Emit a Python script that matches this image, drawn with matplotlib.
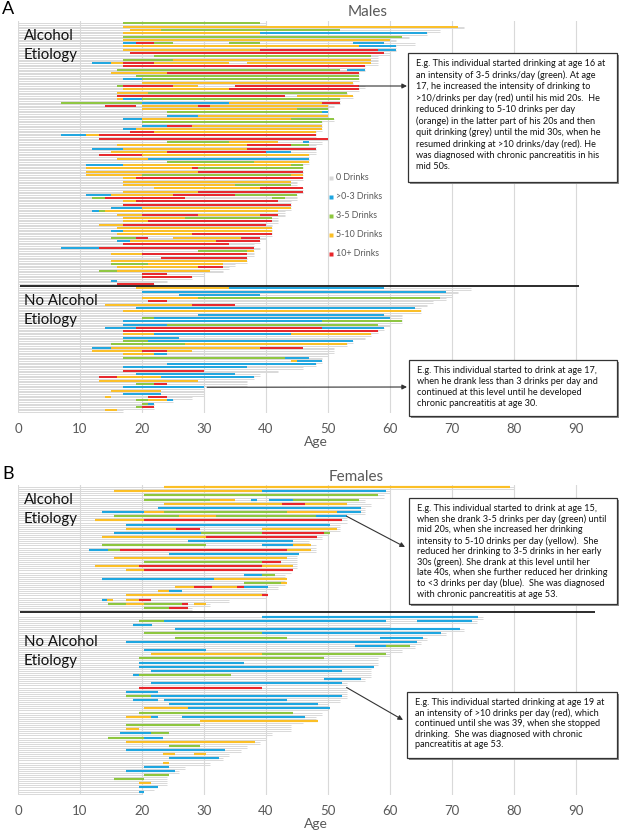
import matplotlib
matplotlib.use('Agg')
import matplotlib.pyplot as plt
from matplotlib.patches import Rectangle

plt.rcParams['font.family'] = ['Lato', 'DejaVu Sans']

# ---------------- data ----------------
age_ticks = [0, 10, 20, 30, 40, 50, 60, 70, 80, 90]
legend_labels = ['0 Drinks', '>0-3 Drinks', '3-5 Drinks', '5-10 Drinks', '10+ Drinks']
legend_codes = ['n', 'b', 'g', 'y', 'r']
colors = {'n': '#d9d9d9', 'b': '#1ea6e0', 'g': '#8dc63f', 'y': '#fbbf26', 'r': '#e8262a'}

# each row: "diagnosis age: code start-end ..."  (b >0-3, g 3-5, y 5-10, r 10+)
male_alcohol = [
    "40: g17-39", "72: y17-71", "68: y18-23 g23-52", "66: y17-39 b39-66", "63: g17-62",
    "61: y17-60", "64: b17-19 r19-22 g22-25 g34-39 b54-59", "61: y17-55 b55-61",
    "61: y17-39 r39-58 b58-61", "60: r18-59", "58: g22-57", "58: g17-25 y25-57",
    "58: b12-15 y15-17 r17-22 y22-34 y37-57", "56: r17-56", "56: g16-52 b53-56",
    "55: y15-24 r24-55", "55: g19-55", "55: b17-20 g20-55", "54: y20-54",
    "56: g16-17 r17-25 y25-29 r35-55", "55: y17-34 r34-55", "53: y16-21 g21-53",
    "54: r16-43 y45-54", "52: y16-17 b17-20 g20-52", "52: g7-20 b20-34 y34-49 r49-52",
    "51: r14-19 y20-29 r29-31 y31-50", "50: y20-45 g45-50", "50: g24-49 b49-50",
    "50: b24-29 y29-50", "51: b17-20 y20-44 g44-51", "49: g20-49", "49: b20-24 r24-28 y28-49",
    "49: b17-19 y19-49", "48: r18-22 y22-48", "48: b7-11 y11-13 r13-48", "50: r13-50",
    "49: g24-34 y34-42 b46-47", "48: y16-37 r37-44 g44-47", "48: b12-17 y17-37 r37-48",
    "48: y15-24 r24-40 b40-44", "47: r13-20 y20-47", "47: y16-21 b21-47", "47: g24-38 y38-47",
    "46: b11-17 y17-44 g44-46", "46: y11-28 r28-29 g29-46", "46: y11-29 r29-46",
    "46: y11-20 g20-44 y44-46", "46: y17-19 r19-46", "45: y17-44", "45: y17-35 g35-44",
    "46: y22-39 r39-46", "46: y17-29 r29-46", "45: b11-15 y15-25 r25-35 g35-45",
    "45: g12-14 r14-27 g41-43", "44: y17-19 r19-42", "44: r17-44", "44: b15-20 y20-44",
    "43: b12-13 g13-14 y14-42", "43: y16-20 r20-29 y29-39 r39-42", "42: y17-27 g27-41",
    "42: y17-21 r21-41", "41: y13-17 r17-40", "41: y16-41", "41: b15-17 y17-41",
    "41: y16-28 r28-41", "40: g15-19 r19-21 y25-36 r36-39", "39: b16-18 y18-32 r32-39",
    "38: r17-34", "39: b7-13 r13-38", "38: g29-37 y37-38", "38: y15-20 r20-37", "37: r23-37",
    "37: y15-37", "35: g15-21 y21-33", "34: y16-29 r29-33", "33: g13-16 y16-31",
    "30: r20-24", "28: r20-28", "24: b15-16", "22: r16-22",
]
male_no_alcohol = [
    "73: y19-34 b34-59", "71: b20-69", "70: b26-39", "69: y20-29 g29-68", "67: r21-24",
    "66: y14-28 r28-35", "65: b19-64", "65: y17-65", "62: b29-59", "62: g20-22 b22-60",
    "62: b17-49 g49-62", "60: b17-24 g24-58", "59: b14-19 r19-49 b49-59", "58: r17-58",
    "57: y17-22 b22-44 y44-57", "56: b17-26", "54: g17-21 b21-54", "53: g15-27 y27-53",
    "51: b12-15 y15-39 r39-46", "51: y12-20 r20-24 y24-28", "50: y17-22 b22-24",
    "49: g17-43 b43-47", "49: y44-45 b45-49", "48: b24-48", "46: b17-37", "42: r17-30",
    "39: b19-35", "38: r13-16 y16-23 b23-38", "37: y13-29", "37: g19-22 r22-24",
    "30: b17-30", "30: y15-23", "30: b17-23", "28: y14-15 r21-24", "25: g19-21 y21-24 b24-25",
    "22: g20-21 b21-22", "22: g19-20 r20-22", "17: y14-16",
]
female_alcohol = [
    "80: y23.5-79.3", "60: y15.5-39.4 b39.4-59.3", "59: g20.4-58",
    "56: g20.4-31 y31-35 b37.5-38.5 b40.5-44.4 g44.4-55", "57: y23.5-42.5 r42.5-46.3 y46.3-53",
    "56: b22.6-55.3", "56: b13.5-20.4 y20.4-23.5 g23.5-43.4 y43.4-51.4 b51.4-55.3",
    "53: g15.5-26 y26-32 g32-48 b48-53", "53: y12.4-20.4 r20.4-52.3", "52: b17.4-50.4",
    "52: y17.4-25.5 r25.5-29.4 y39.4-51.4", "50: b15.5-29.5 g29.5-39.4 r39.4-49.4 g49.4-50.4",
    "49: y13.5-30.3 r30.3-48.2", "47: b27.4-44.4", "48: g13.5-30.3 b39.4-44.4 y44.4-47.2",
    "48: b11.5-14.5 g14.5-16.5 r16.5-43.4 y43.4-47.2", "45: b24.4-45.3", "45: y15.5-43.4",
    "45: g20.4-39.4 r39.4-42.4", "45: y12.4-19.5 r19.5-39.4 y39.4-44.4", "44: y17.4-20.4 r20.4-44.4",
    "43: b36.4-39.4 g39.4-41.4", "43: b13.5-31.6 y31.6-43.4", "43: g36.4-42.4 y42.4-43.4",
    "42: y25.4-28.4 r28.4-31.3 y31.3-35.3 r35.3-36.4 b36.4-40.4", "40: y22.5-24.4 b24.4-26.4",
    "40: y17.4-39.4 r39.4-40.4", "34: b13.5-14.3 y14.3-15.4 y17.4-19.5 r19.5-21.4",
    "31: g14.5-17.4 y17.4-20.4 g20.4-26.4 r26.4-27.4 y28.4-30.3", "28: g20.4-24.4 r24.4-27.4",
]
female_no_alcohol = [
    "75: b39.4-74.2", "74: g19.5-23.5 b23.5-59.3 b64.3-73.3", "60: b18.5-21.6", "72: b25.4-71.3",
    "69: g20.4-39.4 b39.4-68.3", "66: g25.4-43.4 b58.4-65.3", "65: b17.4-64.3",
    "64: b54.4-59.3 g59.3-63.3", "62: b20.4-30.3", "60: y21.4-39.4 g39.4-59.3", "58: g19.5-49.3",
    "58: b19.5-36.4", "57: b19.5-57.4", "57: b21.4-52.3", "57: b18.5-19.5 g19.5-34.3",
    "56: b49.3-55.3", "53: b21.4-52.3", "53: r19.5-39.4", "53: b17.4-22.5",
    "53: g17.4-21.4 b21.4-52.3", "52: b18.5-22.5 b23.5-43.4", "50: b24.4-48.4",
    "50: y20.4-27.4 b27.4-50.4", "49: g19.5-44.4", "48: y17.4-21.4 b21.4-22.5 b26.4-46.3",
    "46: y29.4-48.4", "44: g17.4-29.4", "44: y17.4-19.5", "41: b16.5-21.4 g21.4-24.4",
    "40: g14.5-20.4 b20.4-23.4", "39: y17.4-38.3", "37: g24.4-29.4", "36: b17.4-33.4",
    "34: y23.4-25.4 y28.4-30.3", "33: b24.4-32.4", "31: y23.4-24.4", "27: b20.4-24.4",
    "26: b17.4-25.4", "24: g20.4-24.4", "24: g15.5-20.4", "24: y19.5-21.4", "22: b19.5-22.5",
    "20: b19.5-20.4",
]

note_a1 = ("E.g. This individual started drinking at age 16 at\n"
           "an intensity of 3-5 drinks/day (green). At age\n"
           "17, he increased the intensity of drinking to\n"
           ">10/drinks per day (red) until his mid 20s.  He\n"
           "reduced drinking to 5-10 drinks per day\n"
           "(orange) in the latter part of his 20s and then\n"
           "quit drinking (grey) until the mid 30s, when he\n"
           "resumed drinking at >10 drinks/day (red). He\n"
           "was diagnosed with chronic pancreatitis in his\n"
           "mid 50s.")
note_a2 = ("E.g. This individual started to drink at age 17,\n"
           "when he drank less than 3 drinks per day and\n"
           "continued at this level until he developed\n"
           "chronic pancreatitis at age 30.")
note_b1 = ("E.g. This individual started to drink at age 15,\n"
           "when she drank 3-5 drinks per day (green) until\n"
           "mid 20s, when she increased her drinking\n"
           "intensity to 5-10 drinks per day (yellow).  She\n"
           "reduced her drinking to 3-5 drinks in her early\n"
           "30s (green). She drank at this level until her\n"
           "late 40s, when she further reduced her drinking\n"
           "to <3 drinks per day (blue).  She was diagnosed\n"
           "with chronic pancreatitis at age 53.")
note_b2 = ("E.g. This individual started drinking at age 19 at\n"
           "an intensity of >10 drinks per day (red), which\n"
           "continued until she was 39, when she stopped\n"
           "drinking.  She was diagnosed with chronic\n"
           "pancreatitis at age 53.")


def parse(row):
    end, segs = row.split(':')
    out = []
    for s in segs.split():
        a, b = s[1:].split('-')
        out.append((s[0], float(a), float(b)))
    return float(end), out


W, H = 620, 832
fig = plt.figure(figsize=(W / 100, H / 100), dpi=100)

PX_PER_UNIT = 6.2
X0 = 18
XMAX = 96


def make_axes(top_px, bottom_px):
    return fig.add_axes([X0 / W, 1 - bottom_px / H, XMAX * PX_PER_UNIT / W, (bottom_px - top_px) / H])


def draw_group(ax, rows, offset, lw_col):
    for i, row in enumerate(rows):
        y = offset + i
        end, segs = parse(row)
        ax.hlines([y, y + 0.5], 0, end, color=colors['n'], lw=0.7, zorder=2)
        for c, a, b in segs:
            ax.hlines(y, a, b, color=colors[c], lw=lw_col, zorder=3)


def style_axes(ax, ylim):
    ax.set_xlim(0, XMAX)
    ax.set_ylim(*ylim)
    ax.set_xticks(age_ticks)
    ax.set_yticks([])
    ax.grid(axis='x', color='#d9d9d9', lw=0.8, zorder=0)
    ax.set_axisbelow(True)
    for s in ax.spines.values():
        s.set_visible(False)
    ax.tick_params(axis='x', length=0, pad=7, labelsize=9.5, labelcolor='#595959')
    ax.set_xlabel('Age', fontsize=10, color='#595959', labelpad=1)


# Panel A (males)
axA = make_axes(21, 413)
nA1 = len(male_alcohol)
offA2 = nA1 + 0.3
draw_group(axA, male_alcohol, 0, 1.4)
draw_group(axA, male_no_alcohol, offA2, 1.4)
axA.hlines(nA1 - 0.4, 0.3, 90.5, color='#1a1a1a', lw=1.3, zorder=4)
style_axes(axA, (118.1, -0.7))

# Panel B (females)
axB = make_axes(485, 795)
nB1 = len(female_alcohol)
offB2 = nB1 + 1.1
draw_group(axB, female_alcohol, 0, 1.55)
draw_group(axB, female_no_alcohol, offB2, 1.55)
axB.hlines(nB1, 0.3, 93, color='#1a1a1a', lw=1.3, zorder=4)
style_axes(axB, (73.9, -0.5))

# overlay in pixel coordinates for labels and notes
ov = fig.add_axes([0, 0, 1, 1], zorder=10)
ov.set_xlim(0, W)
ov.set_ylim(H, 0)
ov.axis('off')

ov.text(2, 9, 'A', fontsize=13, va='center', ha='left')
ov.text(2, 474, 'B', fontsize=13, va='center', ha='left')
ov.text(368, 12, 'Males', fontsize=11, color='#595959', ha='center', va='center')
ov.text(356, 477, 'Females', fontsize=11, color='#595959', ha='center', va='center')

for (x, y, t) in [(24, 36, 'Alcohol'), (24, 55, 'Etiology'), (24, 301, 'No Alcohol'), (24, 320, 'Etiology'),
                  (24, 500, 'Alcohol'), (24, 519, 'Etiology'), (24, 642, 'No Alcohol'), (24, 661, 'Etiology')]:
    ov.text(x, y, t, fontsize=10.8, color='#111111', ha='left', va='center')

# legend
for k, (lab, code) in enumerate(zip(legend_labels, legend_codes)):
    yy = 177.5 + 19 * k
    ov.plot([331], [yy], marker='s', ms=2.8, color=colors[code], mec='none')
    ov.text(336, yy, lab, fontsize=6.4, color='#595959', ha='left', va='center')


def note(x0, y0, x1, y1, text, ls):
    ov.add_patch(Rectangle((x0 + 2, y0 + 2), x1 - x0, y1 - y0, facecolor='#8c8c8c', edgecolor='none', zorder=5))
    ov.add_patch(Rectangle((x0, y0), x1 - x0, y1 - y0, facecolor='white', edgecolor='#333333', lw=0.9, zorder=6))
    ov.text(x0 + 8, y0 + 6, text, fontsize=6.6, ha='left', va='top', linespacing=ls, zorder=7, color='#111111')


def arrow(ax, age, row, xb, yb):
    ov.annotate('', xy=(xb, yb), xycoords='data', xytext=(age, row), textcoords=ax.transData,
                arrowprops=dict(arrowstyle='-|>', color='#333333', lw=0.8, shrinkA=0, shrinkB=0,
                                mutation_scale=7), zorder=8)


note(408, 53, 617, 182, note_a1, 1.3)
note(409, 360, 617, 416, note_a2, 1.3)
note(409, 498, 617, 604, note_b1, 1.2)
note(407, 692, 617, 758, note_b2, 1.2)

arrow(axA, 55, 19, 407, 86)
arrow(axA, 30.5, offA2 + 30, 407, 387)
arrow(axB, 53, 7, 405, 547)
arrow(axB, 53, offB2 + 17, 403, 720)

fig.savefig('out.png', dpi=100)
